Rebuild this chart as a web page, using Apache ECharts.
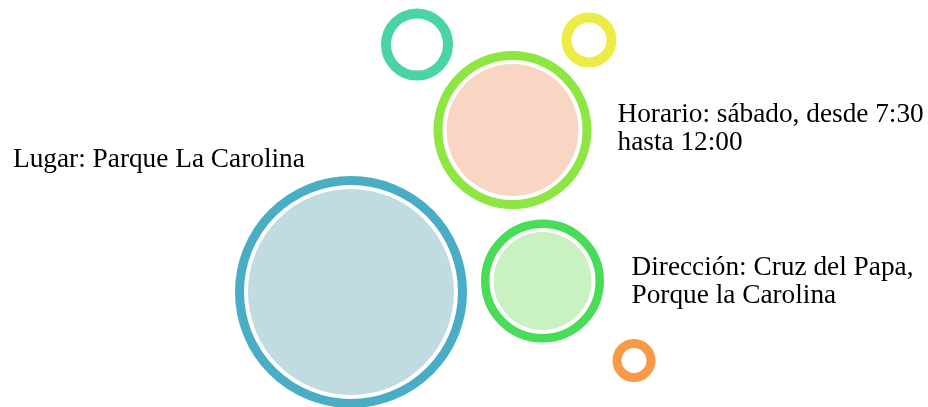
<!DOCTYPE html>
<html>
<head>
<meta charset="utf-8">
<script src="https://cdn.jsdelivr.net/npm/echarts@6/dist/echarts.min.js"></script>
<style>
  html, body { margin: 0; padding: 0; background: #fff; }
  #chart { width: 928px; height: 407px; }
</style>
</head>
<body>
<div id="chart"></div>
<script>
// bubbles: centre (x, y) and outer radius, in plot units
const bubbleNames = ['Lugar', 'Horario', 'Dirección', 'Extra 1', 'Extra 2', 'Extra 3']
const bubbleX = [351, 512.5, 542.5, 417, 589, 634]
const bubbleY = [292, 130, 281, 44.5, 40, 360.5]
const bubbleRadius = [116, 79, 61.5, 36, 27.5, 21.5]
const ringColors = ['#4aadc6', '#8de642', '#48dc58', '#4ad3a6', '#edec47', '#f99a48']
const fillColors = ['#c1dbe3', '#f9d5c4', '#c9f1c2', null, null, null]
const labelTexts = [
  'Lugar: Parque La Carolina',
  'Horario: sábado, desde 7:30\nhasta 12:00',
  'Dirección: Cruz del Papa,\nPorque la Carolina',
  '', '', ''
]

const ringWidths = [9, 9, 8.5, 10, 10, 9]
const gap = 4
// label offsets from bubble centre
const labelOffset = [[-338, -146.5], [105, -29], [89, -27], null, null, null]

const chart = echarts.init(document.getElementById('chart'))

const ringData = bubbleNames.map((n, i) => ({
  name: n,
  value: [bubbleX[i], bubbleY[i]],
  symbolSize: 2 * (bubbleRadius[i] - ringWidths[i] / 2),
  itemStyle: { color: 'rgba(0,0,0,0)', borderColor: ringColors[i], borderWidth: ringWidths[i], opacity: 1 },
  label: labelOffset[i] ? {
    show: true,
    position: 'inside',
    align: 'left',
    verticalAlign: 'top',
    offset: labelOffset[i],
    formatter: labelTexts[i]
  } : { show: false }
}))

const fillData = []
bubbleNames.forEach((n, i) => {
  if (!fillColors[i]) return
  fillData.push({
    name: n,
    value: [bubbleX[i], bubbleY[i]],
    symbolSize: 2 * (bubbleRadius[i] - ringWidths[i] - gap),
    itemStyle: { color: fillColors[i], opacity: 1 }
  })
})

chart.setOption({
  animation: false,
  grid: { left: 0, right: 0, top: 0, bottom: 0 },
  xAxis: { type: 'value', min: 0, max: 928, show: false },
  yAxis: { type: 'value', min: 0, max: 407, inverse: true, show: false },
  series: [
    {
      type: 'scatter',
      symbol: 'circle',
      silent: true,
      itemStyle: { opacity: 1 },
      data: fillData
    },
    {
      type: 'scatter',
      symbol: 'circle',
      silent: true,
      itemStyle: { opacity: 1 },
      data: ringData,
      label: {
        color: '#000',
        fontFamily: 'Liberation Serif',
        fontSize: 27.3,
        lineHeight: 28
      }
    }
  ]
})
</script>
</body>
</html>
